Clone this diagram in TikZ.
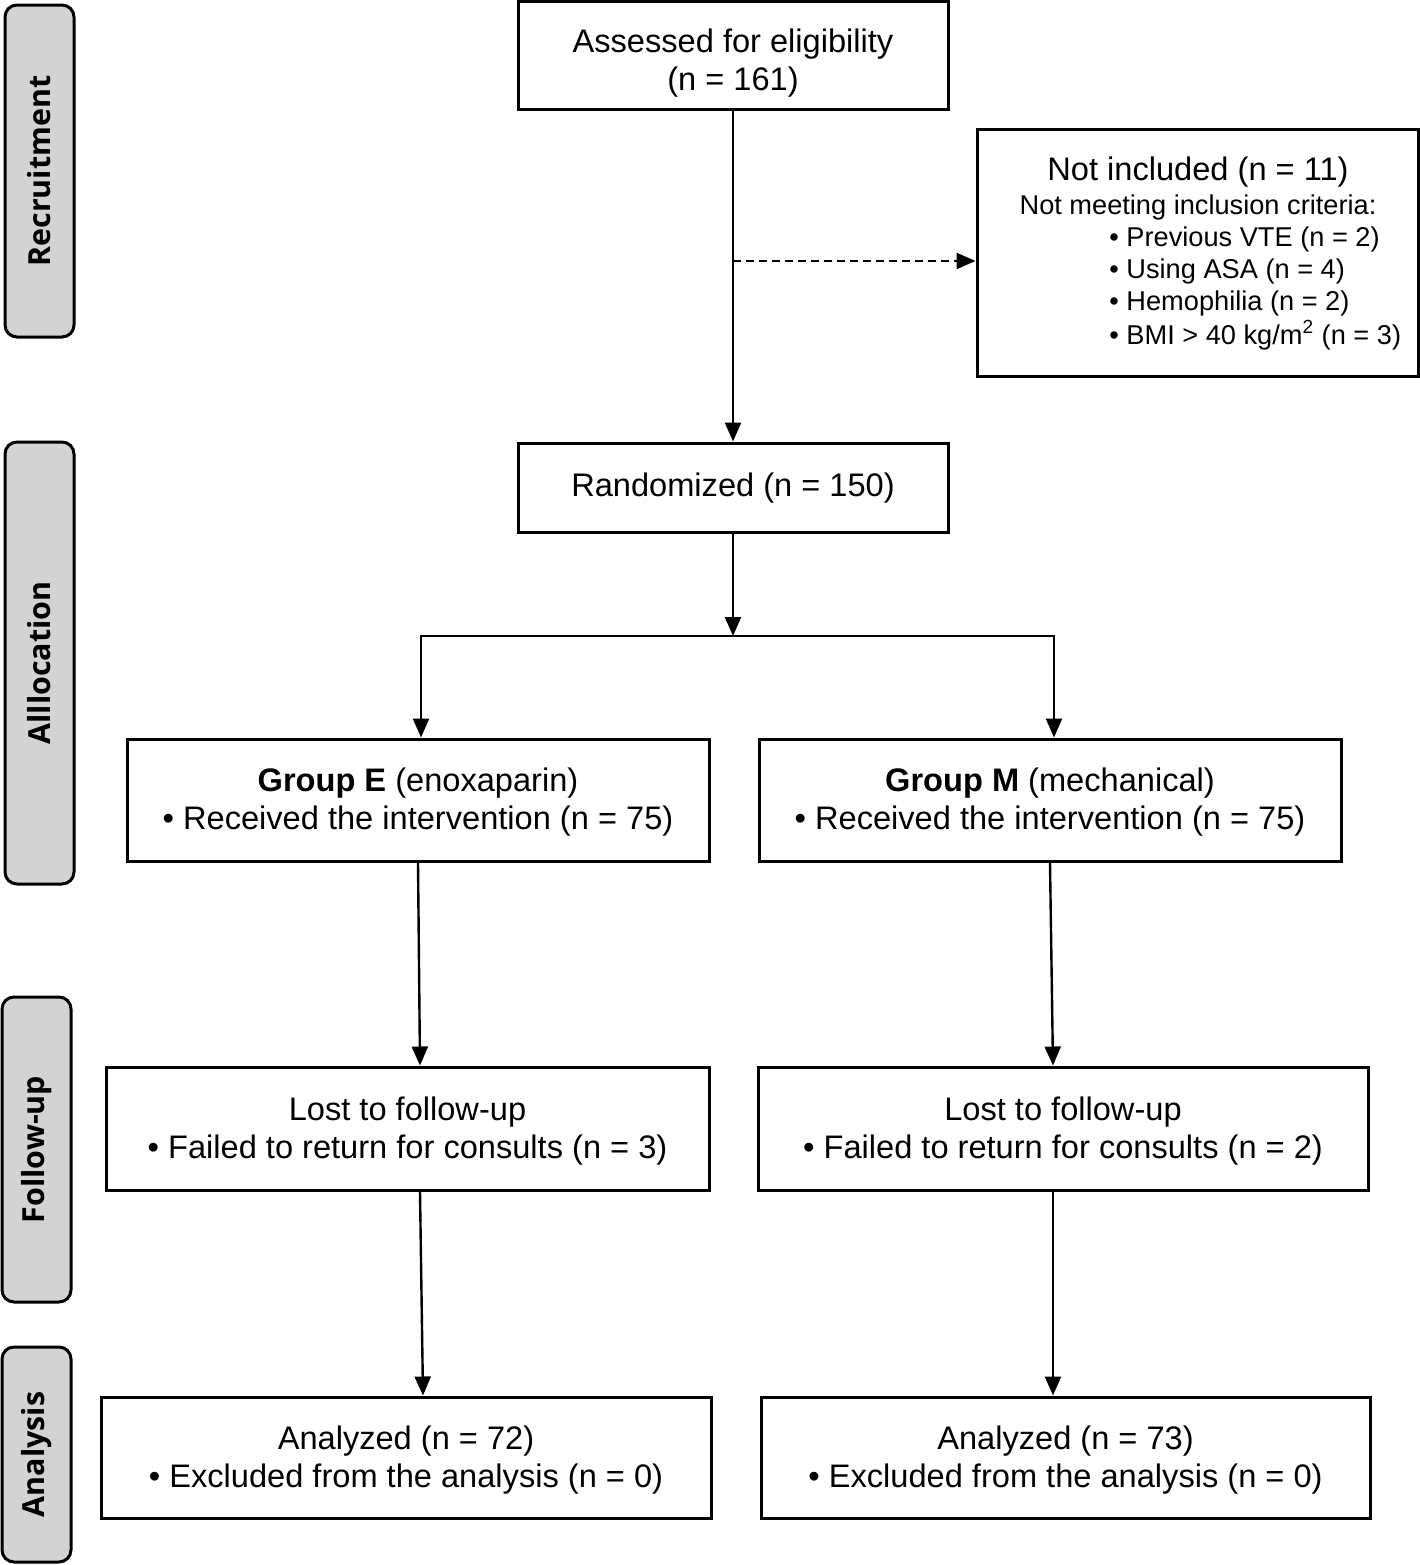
\documentclass[tikz,border=0pt]{standalone}
\usepackage{fontspec}
\setmainfont{Liberation Sans}
\newfontfamily\sidefont{Open Sans}
\usetikzlibrary{arrows.meta,calc}
\definecolor{sidegray}{RGB}{211,211,211}
\begin{document}
\begin{tikzpicture}[x=0.5pt,y=-0.5pt,
  box/.style={draw=black,line width=1.5pt,fill=white,inner sep=0pt},
  txt/.style={inner sep=0pt,align=center,font=\fontsize{16.3}{19}\selectfont},
  side/.style={draw=black,line width=1.5pt,fill=sidegray,rounded corners=6pt,inner sep=0pt},
  sidetext/.style={rotate=90,font=\sidefont\bfseries\fontsize{15.2}{17}\selectfont},
  arr/.style={line width=1.2pt,-{Triangle[length=9.5pt,width=8pt]}},
  small/.style={font=\fontsize{13.6}{16}\selectfont,inner sep=0pt}]
\useasboundingbox (0,0) rectangle (1420,1565);
% side labels
\node[side,minimum width=34.5pt,minimum height=166pt] (sR) at (39.5,171) {};
\node[sidetext] (tR) at (sR.center) {Recruitment};
\node[side,minimum width=34.5pt,minimum height=221pt] (sA) at (39.5,663) {};
\node[sidetext] (tA) at (sA.center) {Alllocation};
\node[side,minimum width=34.5pt,minimum height=152.5pt] (sF) at (36.5,1149.5) {};
\node[sidetext] (tF) at (sF.center) {Follow-up};
\node[side,minimum width=34.5pt,minimum height=107.5pt] (sN) at (36.5,1454.5) {};
\node[sidetext] (tN) at (sN.center) {Analysis};
% boxes
\node[box,minimum width=215pt,minimum height=54pt] (assess) at (733,55) {};
\node[txt] (assessT) at ([yshift=-4.2pt]assess.center) {Assessed for eligibility\\(n = 161)};
\node[box,minimum width=220.5pt,minimum height=123.5pt] (ni) at (1197.5,252.5) {};
\node[inner sep=0pt,font=\fontsize{16.3}{19}\selectfont] (niT) at (1198,172) {Not included (n = 11)};
\node[small] (niS) at (1198,207) {Not meeting inclusion criteria:};
\node[small,anchor=west] (b1) at (1109,239) {• Previous VTE (n = 2)};
\node[small,anchor=west] (b2) at (1109,271) {• Using ASA (n = 4)};
\node[small,anchor=west] (b3) at (1109,303) {• Hemophilia (n = 2)};
\node[small,anchor=west] (b4) at (1109,335) {• BMI > 40 kg/m\textsuperscript{2} (n = 3)};
\node[box,minimum width=215pt,minimum height=44.5pt] (rand) at (733,487.5) {};
\node[txt] (randT) at ([yshift=-0.5pt]rand.center) {Randomized (n = 150)};
\node[box,minimum width=291pt,minimum height=61pt] (gE) at (418,800) {};
\node[txt] (gET) at ([yshift=-1.2pt]gE.center) {\textbf{Group E} (enoxaparin)\\• Received the intervention (n = 75)};
\node[box,minimum width=291pt,minimum height=61pt] (gM) at (1050,800) {};
\node[txt] (gMT) at ([yshift=-1.2pt]gM.center) {\textbf{Group M} (mechanical)\\• Received the intervention (n = 75)};
\node[box,minimum width=301.5pt,minimum height=61.5pt] (lE) at (407.5,1128.5) {};
\node[txt] (lET) at ([yshift=-1.2pt]lE.center) {Lost to follow-up\\• Failed to return for consults (n = 3)};
\node[box,minimum width=305pt,minimum height=61.5pt] (lM) at (1063,1128.5) {};
\node[txt] (lMT) at ([yshift=-1.2pt]lM.center) {Lost to follow-up\\• Failed to return for consults (n = 2)};
\node[box,minimum width=305pt,minimum height=60.5pt] (aE) at (406,1457.5) {};
\node[txt] (aET) at ([yshift=-1.5pt]aE.center) {Analyzed (n = 72)\\• Excluded from the analysis (n = 0)};
\node[box,minimum width=304.5pt,minimum height=60.5pt] (aM) at (1065.5,1457.5) {};
\node[txt] (aMT) at ([yshift=-1.5pt]aM.center) {Analyzed (n = 73)\\• Excluded from the analysis (n = 0)};
% connectors
\draw[arr] (assess) -- (rand);
\coordinate (dashend) at ([yshift=-4.25pt]ni.west);
\draw[arr,dashed,dash pattern=on 4pt off 2.5pt] (assess.south |- dashend) -- (dashend);
\coordinate (split) at (733,636);
\draw[arr] (rand) -- (split);
\draw[arr] (split) -| ([xshift=1.5pt]gE.north);
\draw[arr] (split) -| ([xshift=2pt]gM.north);
\draw[arr] (gE.south) -- ([xshift=6.25pt]lE.north);
\draw[arr] (gM.south) -- ([xshift=-5pt]lM.north);
\draw[arr] ([xshift=6.25pt]lE.south) -- ([xshift=8.5pt]aE.north);
\draw[arr] ([xshift=-5pt]lM.south) -- ([xshift=-6.25pt]aM.north);
\end{tikzpicture}
\end{document}
